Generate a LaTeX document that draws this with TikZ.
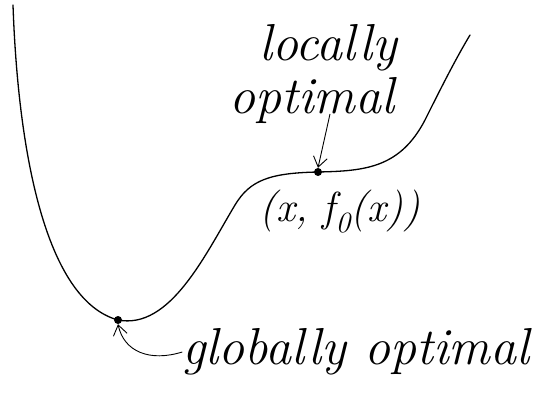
\documentclass[tikz,border=0pt]{standalone}
\usetikzlibrary{arrows.meta}

\begin{document}
\begin{tikzpicture}[
    x=1pt, y=-1pt,
    curve/.style={draw, line width=1.3pt, line cap=round},
    marker/.style={circle, fill, inner sep=0pt, minimum size=8pt},
    label/.style={font=\itshape\fontsize{52}{54}\selectfont, inner sep=0pt},
    pointer/.style={draw, line width=0.9pt, -{Straight Barb[length=10pt, width=14pt]}}
  ]
  \useasboundingbox (0,0) rectangle (551,404);
  % the objective
  \draw[curve] (13,5) .. controls (18,150) and (45,300) .. (118,320)
    .. controls (170,330) and (205,255) .. (235,205)
    .. controls (250,180) and (270,173) .. (318,172)
    .. controls (365,171) and (400,168) .. (425,120)
    .. controls (440,90) and (455,60) .. (470,35);
  \node[marker] (glob) at (118,320) {};
  \node[marker] (loc) at (318,172) {};
  % labels
  \node[label] (loctop) at (328,48) {locally};
  \node[label] (locbot) at (312,100) {optimal};
  \node[label, font=\itshape\fontsize{42}{44}\selectfont] (pt) at (340,212)
    {(x, f\textsubscript{0}(x))};
  \node[label] (globtext) at (356,352) {globally optimal};
  % arrows
  \draw[pointer] (330,114) -- (loc.north);
  \draw[pointer] (globtext.west) .. controls (150,362) and (124,352) .. (glob.south);
\end{tikzpicture}
\end{document}
